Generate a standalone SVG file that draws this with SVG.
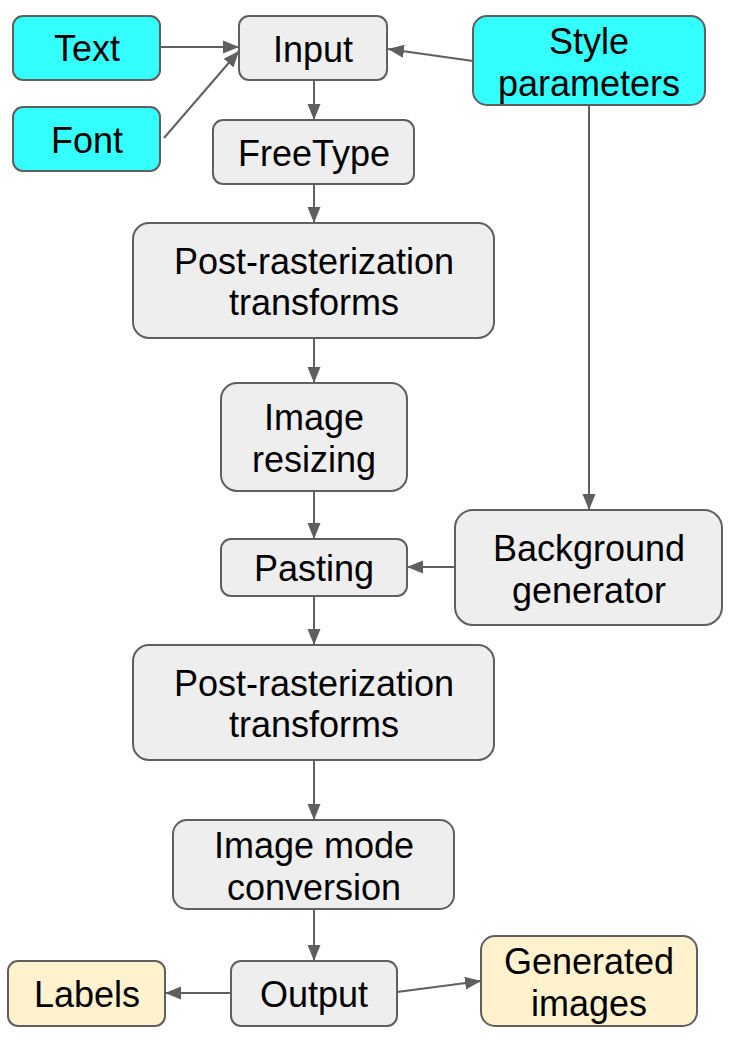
<svg xmlns="http://www.w3.org/2000/svg" width="738" height="1042" viewBox="0 0 738 1042">
<style>
.n rect{stroke:#5f5f5f;stroke-width:2}
.c{fill:#33ffff}
.g{fill:#eeeeee}
.y{fill:#fff2cc}
text{font-family:"Liberation Sans",Arial,sans-serif;font-size:36px;fill:#000;text-anchor:middle}
#connectors line{stroke:#5f5f5f;stroke-width:2;marker-end:url(#ah)}
</style>
<defs>
<marker id="ah" markerWidth="17" markerHeight="14" refX="16" refY="7" orient="auto" markerUnits="userSpaceOnUse">
<path d="M0,0.5 L16,7 L0,13.5 Z" fill="#5f5f5f"/>
</marker>
</defs>
<rect width="738" height="1042" fill="#fff"/>
<g id="connectors">
<line x1="160" y1="47" x2="239" y2="47"/>
<line x1="164" y1="138" x2="239" y2="51"/>
<line x1="473" y1="61" x2="388" y2="49"/>
<line x1="314" y1="80" x2="314" y2="120"/>
<line x1="314" y1="184" x2="314" y2="223"/>
<line x1="314" y1="338" x2="314" y2="383"/>
<line x1="314" y1="491" x2="314" y2="539"/>
<line x1="589" y1="105" x2="589" y2="510"/>
<line x1="455" y1="567" x2="407" y2="567"/>
<line x1="314" y1="596" x2="314" y2="645"/>
<line x1="314" y1="760" x2="314" y2="820"/>
<line x1="314" y1="909" x2="314" y2="961"/>
<line x1="231" y1="993" x2="165" y2="993"/>
<line x1="397" y1="992" x2="481" y2="981"/>
</g>
<g id="text-node" class="n"><rect class="c" x="13" y="16" width="147" height="64" rx="10"/><text x="87" y="61">Text</text></g>
<g id="font-node" class="n"><rect class="c" x="13" y="107" width="147" height="64" rx="10"/><text x="87" y="153">Font</text></g>
<g id="input" class="n"><rect class="g" x="239" y="16" width="148" height="64" rx="10"/><text x="313" y="62">Input</text></g>
<g id="style" class="n"><rect class="c" x="473" y="16" width="232" height="89" rx="14"/><text x="589" y="54">Style</text><text x="589" y="96">parameters</text></g>
<g id="freetype" class="n"><rect class="g" x="213" y="120" width="201" height="64" rx="10"/><text x="314" y="166">FreeType</text></g>
<g id="post1" class="n"><rect class="g" x="133" y="223" width="361" height="115" rx="16"/><text x="314" y="274">Post-rasterization</text><text x="314" y="315">transforms</text></g>
<g id="resize" class="n"><rect class="g" x="221" y="383" width="186" height="108" rx="16"/><text x="314" y="430">Image</text><text x="314" y="472">resizing</text></g>
<g id="pasting" class="n"><rect class="g" x="221" y="539" width="186" height="57" rx="10"/><text x="314" y="581">Pasting</text></g>
<g id="background" class="n"><rect class="g" x="455" y="510" width="267" height="115" rx="18"/><text x="589" y="561">Background</text><text x="589" y="603">generator</text></g>
<g id="post2" class="n"><rect class="g" x="133" y="645" width="361" height="115" rx="16"/><text x="314" y="696">Post-rasterization</text><text x="314" y="737">transforms</text></g>
<g id="mode" class="n"><rect class="g" x="173" y="820" width="281" height="89" rx="14"/><text x="314" y="858">Image mode</text><text x="314" y="900">conversion</text></g>
<g id="labels" class="n"><rect class="y" x="8" y="961" width="157" height="65" rx="10"/><text x="87" y="1007">Labels</text></g>
<g id="output" class="n"><rect class="g" x="231" y="961" width="166" height="65" rx="10"/><text x="314" y="1007">Output</text></g>
<g id="generated" class="n"><rect class="y" x="481" y="936" width="216" height="90" rx="14"/><text x="589" y="974">Generated</text><text x="589" y="1016">images</text></g>
</svg>
